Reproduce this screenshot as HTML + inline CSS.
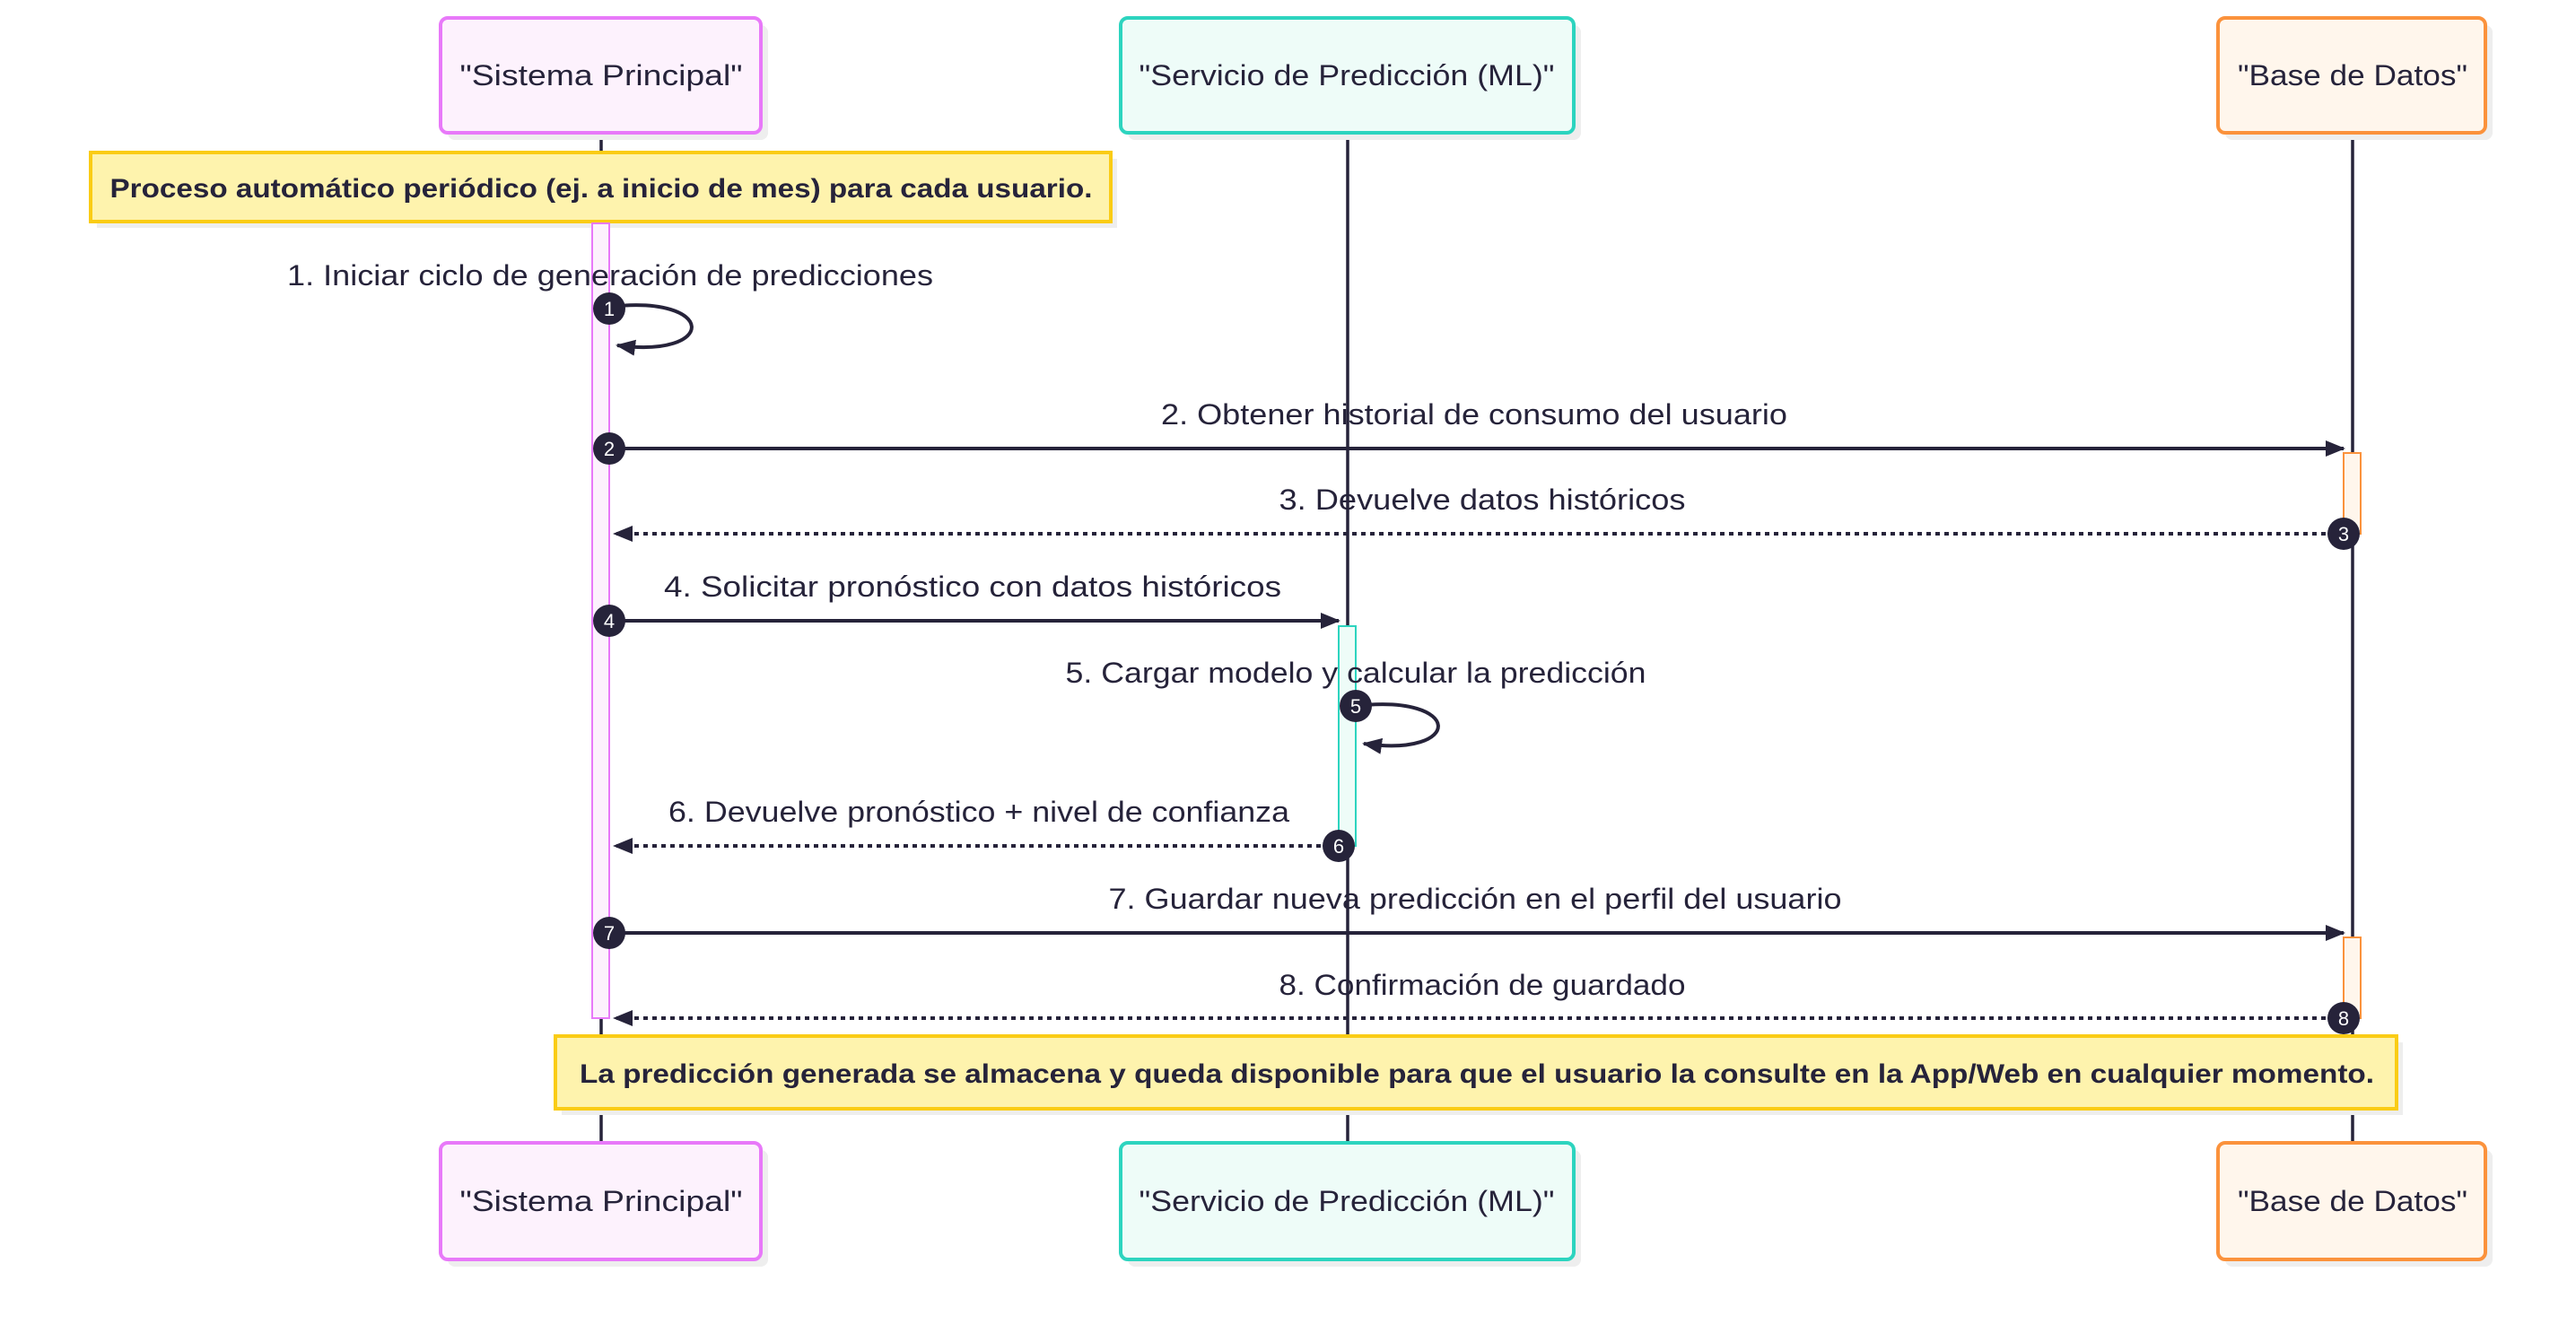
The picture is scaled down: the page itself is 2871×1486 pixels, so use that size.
<!DOCTYPE html>
<html><head><meta charset="utf-8"><style>
html,body{margin:0;padding:0;background:#fff;}
svg{display:block;}
text{font-family:"Liberation Sans",sans-serif;fill:#26233a;}
</style></head><body>
<svg width="2871" height="1486" viewBox="0 0 2871 1486" xmlns="http://www.w3.org/2000/svg">
<defs>
<marker id="ah" markerWidth="22" markerHeight="22" refX="20" refY="11" orient="auto" markerUnits="userSpaceOnUse" viewBox="0 0 22 22"><path d="M0,2 L22,11 L0,20 z" fill="#26233a"/></marker>
</defs>
<g stroke="#26233a" stroke-width="3.5">
<line x1="670" y1="148" x2="670" y2="1274"/>
<line x1="1502" y1="148" x2="1502" y2="1274"/>
<line x1="2622" y1="148" x2="2622" y2="1274"/>
</g>
<g>
<rect x="499" y="28" width="357" height="128" rx="8" fill="#eee"/>
<rect x="491" y="20" width="357" height="128" rx="8" fill="#fdf2fd" stroke="#e879f9" stroke-width="4"/>
<rect x="1257" y="28" width="505" height="128" rx="8" fill="#eee"/>
<rect x="1249" y="20" width="505" height="128" rx="8" fill="#eefcf8" stroke="#2dd4bf" stroke-width="4"/>
<rect x="2480" y="28" width="298" height="128" rx="8" fill="#eee"/>
<rect x="2472" y="20" width="298" height="128" rx="8" fill="#fff6ec" stroke="#fb923c" stroke-width="4"/>
<text x="670" y="95" font-size="32" text-anchor="middle" textLength="315" lengthAdjust="spacingAndGlyphs">"Sistema Principal"</text>
<text x="1501" y="95" font-size="32" text-anchor="middle" textLength="463" lengthAdjust="spacingAndGlyphs">"Servicio de Predicción (ML)"</text>
<text x="2622" y="95" font-size="32" text-anchor="middle" textLength="256" lengthAdjust="spacingAndGlyphs">"Base de Datos"</text>
</g>
<g>
<rect x="499" y="1282" width="357" height="130" rx="8" fill="#eee"/>
<rect x="491" y="1274" width="357" height="130" rx="8" fill="#fdf2fd" stroke="#e879f9" stroke-width="4"/>
<rect x="1257" y="1282" width="505" height="130" rx="8" fill="#eee"/>
<rect x="1249" y="1274" width="505" height="130" rx="8" fill="#eefcf8" stroke="#2dd4bf" stroke-width="4"/>
<rect x="2480" y="1282" width="298" height="130" rx="8" fill="#eee"/>
<rect x="2472" y="1274" width="298" height="130" rx="8" fill="#fff6ec" stroke="#fb923c" stroke-width="4"/>
<text x="670" y="1350" font-size="32" text-anchor="middle" textLength="315" lengthAdjust="spacingAndGlyphs">"Sistema Principal"</text>
<text x="1501" y="1350" font-size="32" text-anchor="middle" textLength="463" lengthAdjust="spacingAndGlyphs">"Servicio de Predicción (ML)"</text>
<text x="2622" y="1350" font-size="32" text-anchor="middle" textLength="256" lengthAdjust="spacingAndGlyphs">"Base de Datos"</text>
</g>
<rect x="108" y="177" width="1137" height="77" fill="#eee"/>
<rect x="101" y="170" width="1137" height="77" fill="#fef3ad" stroke="#facc15" stroke-width="4"/>
<text x="670" y="220" font-size="30" font-weight="bold" text-anchor="middle" textLength="1095" lengthAdjust="spacingAndGlyphs">Proceso automático periódico (ej. a inicio de mes) para cada usuario.</text>
<rect x="660" y="249" width="19" height="886" fill="#fdf2fd" stroke="#e879f9" stroke-width="2"/>
<rect x="2612" y="505" width="19" height="90" fill="#fff6ec" stroke="#fb923c" stroke-width="2"/>
<rect x="2612" y="1045" width="19" height="90" fill="#fff6ec" stroke="#fb923c" stroke-width="2"/>
<rect x="1492" y="698" width="19" height="245" fill="#eefcf8" stroke="#2dd4bf" stroke-width="2"/>
<g stroke="#26233a" stroke-width="4" fill="none">
<path d="M679,342 C800,328 800,400 688,385" marker-end="url(#ah)"/>
<line x1="679" y1="500" x2="2612" y2="500" marker-end="url(#ah)"/>
<line x1="2612" y1="595" x2="685" y2="595" stroke-dasharray="5,5" marker-end="url(#ah)"/>
<line x1="679" y1="692" x2="1492" y2="692" marker-end="url(#ah)"/>
<path d="M1511,787 C1632,773 1632,845 1520,829" marker-end="url(#ah)"/>
<line x1="1492" y1="943" x2="685" y2="943" stroke-dasharray="5,5" marker-end="url(#ah)"/>
<line x1="679" y1="1040" x2="2612" y2="1040" marker-end="url(#ah)"/>
<line x1="2612" y1="1135" x2="685" y2="1135" stroke-dasharray="5,5" marker-end="url(#ah)"/>
</g>
<g font-size="32" text-anchor="middle">
<text x="680" y="318" textLength="720" lengthAdjust="spacingAndGlyphs">1. Iniciar ciclo de generación de predicciones</text>
<text x="1643" y="473" textLength="698" lengthAdjust="spacingAndGlyphs">2. Obtener historial de consumo del usuario</text>
<text x="1652" y="568" textLength="453" lengthAdjust="spacingAndGlyphs">3. Devuelve datos históricos</text>
<text x="1084" y="665" textLength="688" lengthAdjust="spacingAndGlyphs">4. Solicitar pronóstico con datos históricos</text>
<text x="1511" y="761" textLength="647" lengthAdjust="spacingAndGlyphs">5. Cargar modelo y calcular la predicción</text>
<text x="1091" y="916" textLength="692" lengthAdjust="spacingAndGlyphs">6. Devuelve pronóstico + nivel de confianza</text>
<text x="1644" y="1013" textLength="817" lengthAdjust="spacingAndGlyphs">7. Guardar nueva predicción en el perfil del usuario</text>
<text x="1652" y="1109" textLength="453" lengthAdjust="spacingAndGlyphs">8. Confirmación de guardado</text>
</g>
<g fill="#26233a">
<circle cx="679" cy="344" r="18"/><circle cx="679" cy="500" r="18"/><circle cx="2612" cy="595" r="18"/>
<circle cx="679" cy="692" r="18"/><circle cx="1511" cy="787" r="18"/><circle cx="1492" cy="943" r="18"/>
<circle cx="679" cy="1040" r="18"/><circle cx="2612" cy="1135" r="18"/>
</g>
<g font-size="22" text-anchor="middle">
<text x="679" y="352" style="fill:#fff">1</text><text x="679" y="508" style="fill:#fff">2</text><text x="2612" y="603" style="fill:#fff">3</text>
<text x="679" y="700" style="fill:#fff">4</text><text x="1511" y="795" style="fill:#fff">5</text><text x="1492" y="951" style="fill:#fff">6</text>
<text x="679" y="1048" style="fill:#fff">7</text><text x="2612" y="1143" style="fill:#fff">8</text>
</g>
<rect x="626" y="1162" width="2052" height="81" fill="#eee"/>
<rect x="619" y="1155" width="2052" height="81" fill="#fef3ad" stroke="#facc15" stroke-width="4"/>
<text x="1646" y="1207" font-size="30" font-weight="bold" text-anchor="middle" textLength="2000" lengthAdjust="spacingAndGlyphs">La predicción generada se almacena y queda disponible para que el usuario la consulte en la App/Web en cualquier momento.</text>
</svg>
</body></html>
